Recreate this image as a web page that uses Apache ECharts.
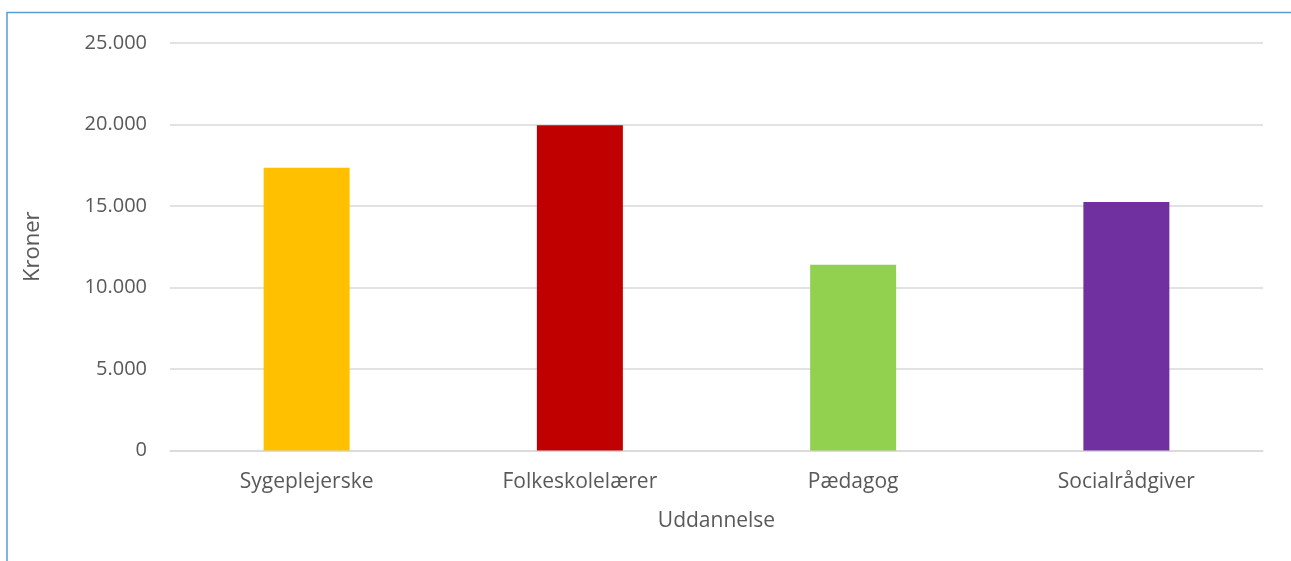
<!DOCTYPE html>
<html>
<head>
<meta charset="utf-8">
<script src="https://cdn.jsdelivr.net/npm/echarts@6/dist/echarts.min.js"></script>
<style>
html,body{margin:0;padding:0;background:#fff;}
#c{width:1291px;height:561px;}
</style>
</head>
<body>
<div id="c"></div>
<script>
const categories = ['Sygeplejerske', 'Folkeskolelærer', 'Pædagog', 'Socialrådgiver'];
const values = [17340, 19960, 11390, 15250];
const barColors = ['#FFC000', '#C00000', '#92D050', '#7030A0'];
const yTicks = [0, 5000, 10000, 15000, 20000, 25000];

const chart = echarts.init(document.getElementById('c'));
const font = '"Open Sans", "Noto Sans", sans-serif';
chart.setOption({
  animation: false,
  backgroundColor: '#fff',
  graphic: [{
    type: 'rect', silent: true,
    shape: { x: 7, y: 12.5, width: 1300, height: 600 },
    style: { fill: 'none', stroke: '#5B9BD5', lineWidth: 1.5 }
  }],
  grid: { left: 170, right: 28, top: 43, bottom: 110.5 },
  xAxis: {
    type: 'category',
    data: categories,
    name: 'Uddannelse',
    nameLocation: 'middle',
    nameGap: 60,
    nameTextStyle: { color: '#595959', fontSize: 21, fontFamily: font },
    axisLine: { show: true, lineStyle: { color: '#D9D9D9', width: 1.5 } },
    axisTick: { show: false },
    axisLabel: { color: '#595959', fontSize: 21, fontFamily: font, margin: 21 }
  },
  yAxis: {
    type: 'value',
    min: yTicks[0],
    max: yTicks[yTicks.length - 1],
    interval: 5000,
    name: 'Kroner',
    nameLocation: 'middle',
    nameGap: 126,
    nameTextStyle: { color: '#595959', fontSize: 22, fontFamily: font },
    axisLine: { show: false },
    axisTick: { show: false },
    splitLine: { lineStyle: { color: '#D9D9D9', width: 1.5 } },
    axisLabel: {
      color: '#595959', fontSize: 20, fontFamily: font, margin: 23,
      formatter: v => v === 0 ? '0' : v.toLocaleString('da-DK').replace(/,/g, '.')
    }
  },
  series: [{
    type: 'bar',
    barWidth: 86,
    data: values.map((v, i) => ({ value: v, itemStyle: { color: barColors[i] } }))
  }]
});
</script>
</body>
</html>
